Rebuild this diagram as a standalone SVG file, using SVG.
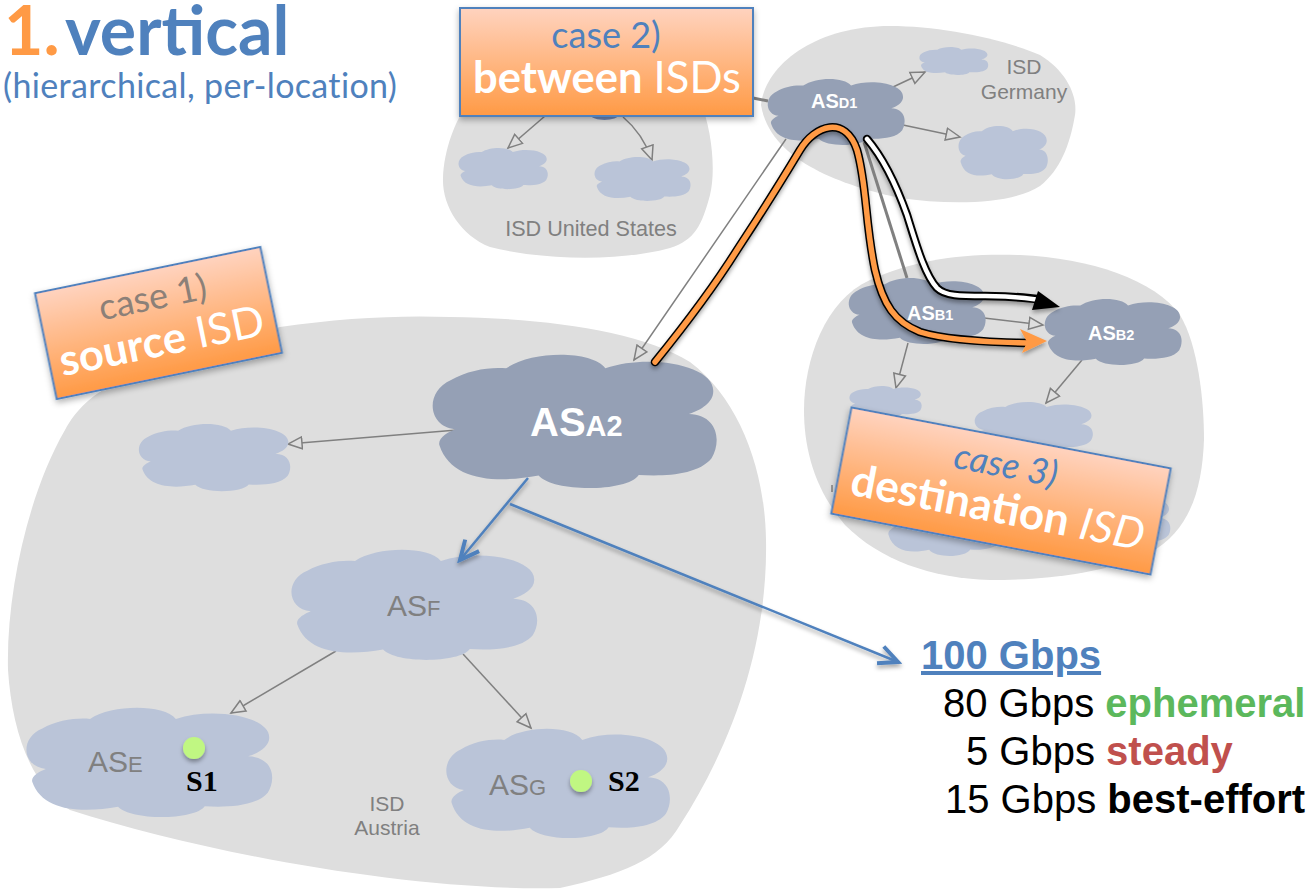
<svg xmlns="http://www.w3.org/2000/svg" width="1307" height="889" viewBox="0 0 1307 889">
<style>
.isd{fill:#dedede}
.dark{fill:#95a0b5}
.light{fill:#bac4d8}
.conn{fill:none;stroke:#808080;stroke-width:1.5}
.thick{fill:none;stroke:#808080;stroke-width:3}
.hollow{marker-end:url(#hollow)}
.blue{fill:none;stroke:#4f81bd;stroke-width:2.5;marker-end:url(#openBlue);filter:url(#sh)}
.box{fill:url(#boxGrad);stroke:#4f81bd;stroke-width:2;filter:url(#shBox)}
.lato{font-family:"Lato","Open Sans",sans-serif}
.arial{font-family:"Liberation Sans",Arial,sans-serif}
.lbl{font-family:"Liberation Sans",Arial,sans-serif;fill:#808080}
.w{font-family:"Liberation Sans",Arial,sans-serif;fill:#fff;font-weight:bold}
.srv{font-family:"Liberation Serif","Times New Roman",serif;font-weight:bold;font-size:30px;fill:#000}
.dot{fill:#c0f782;filter:url(#sh)}
.bl{fill:#4f81bd}
.wh{fill:#fff}
</style>
<defs>
<linearGradient id="boxGrad" x1="0" y1="0" x2="0" y2="1"><stop offset="0" stop-color="#ffd3bf"/><stop offset="1" stop-color="#ff9a45"/></linearGradient>
<filter id="sh" x="-30%" y="-30%" width="160%" height="160%"><feDropShadow dx="0" dy="3" stdDeviation="2" flood-color="#000" flood-opacity=".35"/></filter>
<filter id="shBox" x="-10%" y="-10%" width="120%" height="120%"><feDropShadow dx="0" dy="3" stdDeviation="3" flood-color="#000" flood-opacity=".3"/></filter>
<marker id="hollow" markerUnits="userSpaceOnUse" markerWidth="20" markerHeight="18" refX="15" refY="8" orient="auto" viewBox="0 0 20 16"><path d="M1,2 L15,8 L1,14 Z" fill="#dedede" stroke="#808080" stroke-width="1.5"/></marker>
<marker id="openBlue" markerUnits="userSpaceOnUse" markerWidth="26" markerHeight="26" refX="22" refY="12" orient="auto" viewBox="0 0 26 24"><path d="M3,3 L22,12 L3,21" fill="none" stroke="#4f81bd" stroke-width="4"/></marker>
<path id="cloud" d="M225,40 C300,-13 480,-15 522,40 C650,-5 850,30 845,110 C845,140 810,165 772,177 C860,180 870,260 840,310 C800,360 700,365 622,360 C590,410 370,415 322,362 C200,385 60,380 25,270 C20,250 50,232 72,223 C-10,215 -20,110 60,75 C110,45 180,35 225,40 Z"/>
</defs>
<rect width="1307" height="889" fill="#fff"/>

<g id="isd-austria"><path class="isd" d="M280,327 C340,318 400,315 450,317 C540,318 640,330 690,362 C740,400 765,470 766,540 C768,640 735,740 680,825 C660,860 620,875 560,888 C420,892 210,855 70,810 C30,785 12,730 8,670 C6,590 30,490 65,430 C90,385 130,370 280,327 Z"/></g>
<g id="isd-us"><path class="isd" d="M470,100 L700,100 C712,130 716,170 710,195 C702,225 695,240 670,248 C620,262 540,260 490,247 C460,235 442,205 443,178 C444,150 455,120 470,100 Z"/></g>
<g id="isd-germany"><path class="isd" d="M761,105 C765,65 815,26 890,26 C940,26 1000,38 1040,55 C1065,70 1078,95 1075,115 C1070,145 1060,170 1040,186 C1010,205 950,205 900,198 C840,185 770,160 761,105 Z"/></g>
<g id="isd-dest"><path class="isd" d="M804,410 C804,360 825,300 870,280 C915,260 960,253 1020,255 C1090,258 1155,280 1180,315 C1198,345 1204,400 1204,440 C1202,490 1190,530 1150,553 C1100,575 1040,580 990,580 C930,578 880,560 845,525 C815,490 804,450 804,410 Z"/></g>

<g id="connectors">
<path class="conn hollow" d="M457,430 L288,444"/>
<path class="conn hollow" d="M336,651 L231,713"/>
<path class="conn hollow" d="M463,654 L531,728"/>
<path class="conn hollow" d="M545,116 L508,148"/>
<path class="conn hollow" d="M623,117 C635,127 645,140 652,160"/>
<path class="thick" d="M753,98 L768,101"/>
<path class="conn hollow" d="M893,87 L925,72"/>
<path class="conn hollow" d="M903,125 L960,137"/>
<path class="conn hollow" d="M786,139 L634,360"/>
<path class="thick" d="M864,142 L907,278"/>
<path class="conn hollow" d="M984,318 L1043,325"/>
<path class="conn hollow" d="M908,343 L896,388"/>
<path class="conn hollow" d="M1082,360 L1046,403"/>
<path d="M832,485 L832,492" stroke="#808080" stroke-width="1.5" fill="none"/>
</g>

<g id="us-hidden"><use href="#cloud" fill="#6f88b5" transform="translate(555,60) scale(.105,.15)"/></g>
<g id="us-a"><use href="#cloud" class="light" transform="translate(458,148) scale(.105,.103)"/></g>
<g id="us-b"><use href="#cloud" class="light" transform="translate(594,157) scale(.113,.11)"/></g>
<g id="as-d1"><use href="#cloud" class="dark" transform="translate(767,79) scale(.161,.165)"/><text class="w" x="811" y="108" font-size="20">AS<tspan font-size="14.5">D1</tspan></text></g>
<g id="de-a"><use href="#cloud" class="light" transform="translate(919,47) scale(.081,.07)"/></g>
<g id="de-b"><use href="#cloud" class="light" transform="translate(958,126) scale(.105,.133)"/></g>
<g id="as-b1"><use href="#cloud" class="dark" transform="translate(848,278) scale(.161,.165)"/><text class="w" x="907" y="320" font-size="20">AS<tspan font-size="14.5">B1</tspan></text></g>
<g id="as-b2"><use href="#cloud" class="dark" transform="translate(1044,299) scale(.161,.165)"/><text class="w" x="1088" y="340" font-size="20">AS<tspan font-size="14.5">B2</tspan></text></g>
<g id="dest-a"><use href="#cloud" class="light" transform="translate(849,386) scale(.085,.078)"/></g>
<g id="dest-b"><use href="#cloud" class="light" transform="translate(974,402) scale(.139,.125)"/></g>
<g id="dest-c"><use href="#cloud" class="light" transform="translate(885,490) scale(.137,.165)"/></g>
<g id="dest-d"><use href="#cloud" class="light" transform="translate(1060,495) scale(.129,.13)"/></g>

<g id="as-a2"><use href="#cloud" class="dark" transform="translate(431,355) scale(.334,.333)"/><text class="w" x="530" y="436" font-size="40">AS<tspan font-size="29">A2</tspan></text></g>
<g id="left-cloud"><use href="#cloud" class="light" transform="translate(138,424) scale(.178,.168)"/></g>
<g id="as-f"><use href="#cloud" class="light" transform="translate(290,550) scale(.289,.275)"/><text class="lbl" x="387" y="616" font-size="30">AS<tspan font-size="22">F</tspan></text></g>
<g id="as-e"><use href="#cloud" class="light" transform="translate(25,708) scale(.289,.273)"/><text class="lbl" x="88" y="772" font-size="30">AS<tspan font-size="22">E</tspan></text><ellipse class="dot" cx="194" cy="748" rx="11" ry="11"/><text class="srv" x="186" y="791">S1</text></g>
<g id="as-g"><use href="#cloud" class="light" transform="translate(445,729) scale(.263,.273)"/><text class="lbl" x="489" y="795" font-size="30">AS<tspan font-size="22">G</tspan></text><ellipse class="dot" cx="581" cy="781" rx="11" ry="11"/><text class="srv" x="608" y="791">S2</text></g>
<text class="lbl" x="387" y="811" font-size="21" text-anchor="middle">ISD</text>
<text class="lbl" x="387" y="835" font-size="21" text-anchor="middle">Austria</text>
<text class="lbl" x="1024" y="74" font-size="21" text-anchor="middle">ISD</text>
<text class="lbl" x="1024" y="99" font-size="21" text-anchor="middle">Germany</text>
<text class="lbl" x="591" y="236" font-size="21.6" text-anchor="middle">ISD United States</text>

<g id="routes">
<path class="blue" d="M528,478 L460,560"/>
<path class="blue" d="M510,504 L898,662"/>
<g filter="url(#sh)">
<path d="M867,139 C885,160 897,187 907,215 C917,247 925,275 937,288 C945,296 960,296 985,296 C1000,296 1020,297 1037,299" fill="none" stroke="#000" stroke-width="8.5" stroke-linecap="round"/>
<path d="M867,139 C885,160 897,187 907,215 C917,247 925,275 937,288 C945,296 960,296 985,296 C1000,296 1020,297 1040,300" fill="none" stroke="#fff" stroke-width="4.5" stroke-linecap="round"/>
<path d="M1038,291 L1060,307 L1032,310 Z" fill="#000"/>
<path d="M655,362 C685,325 715,285 737,250 C760,215 785,175 800,150 C815,125 845,115 857,150 C867,185 865,223 875,270 C883,305 895,322 920,332 C945,340 985,342 1026,343" fill="none" stroke="#000" stroke-width="8.5" stroke-linecap="round"/>
<path d="M655,362 C685,325 715,285 737,250 C760,215 785,175 800,150 C815,125 845,115 857,150 C867,185 865,223 875,270 C883,305 895,322 920,332 C945,340 985,342 1028,343" fill="none" stroke="#ff9a45" stroke-width="5.5" stroke-linecap="round"/>
<path d="M1020,329 L1047,341 L1022,353 L1027,342 Z" fill="#ff9a45"/>
</g>
</g>

<g id="title">
<text class="lato" x="4" y="55" font-size="68" font-weight="bold"><tspan fill="#ff9a45">1.</tspan><tspan class="bl" x="65">vertical</tspan></text>
<text class="lato bl" x="3" y="98" font-size="34" letter-spacing=".35">(hierarchical, per-location)</text>
</g>

<g id="case-2"><rect class="box" x="460" y="8" width="293" height="108"/>
<text class="lato bl" x="606" y="48" font-size="36" text-anchor="middle">case 2)</text>
<text class="lato wh" x="607" y="93" font-size="43.5" text-anchor="middle"><tspan font-weight="bold">between</tspan> ISDs</text></g>

<g id="case-1" transform="rotate(-11.6 158.5 323)"><rect class="box" x="43.5" y="269" width="230" height="108"/>
<text class="lato" x="158" y="309" font-size="36" text-anchor="middle" fill="#8c8078">case 1)</text>
<text class="lato wh" x="158" y="356" font-size="43.5" text-anchor="middle"><tspan font-weight="bold">source</tspan> ISD</text></g>

<g id="case-3" transform="rotate(10.8 1001 491)"><rect class="box" x="838.5" y="437" width="325" height="108"/>
<text class="lato bl" x="1001" y="477" font-size="36" text-anchor="middle" font-style="italic">case 3)</text>
<text class="lato wh" x="1001" y="523" font-size="44" text-anchor="middle"><tspan font-weight="bold">destination</tspan> <tspan font-style="italic">ISD</tspan></text></g>

<g id="rates" class="arial" font-size="40">
<text x="921" y="669" font-weight="bold" fill="#4f81bd" text-decoration="underline">100 Gbps</text>
<text x="943" y="717">80 Gbps <tspan font-weight="bold" fill="#5cb85c">ephemeral</tspan></text>
<text x="966" y="765">5 Gbps <tspan font-weight="bold" fill="#c0504d">steady</tspan></text>
<text x="945" y="813">15 Gbps <tspan font-weight="bold">best-effort</tspan></text>
</g>
</svg>
